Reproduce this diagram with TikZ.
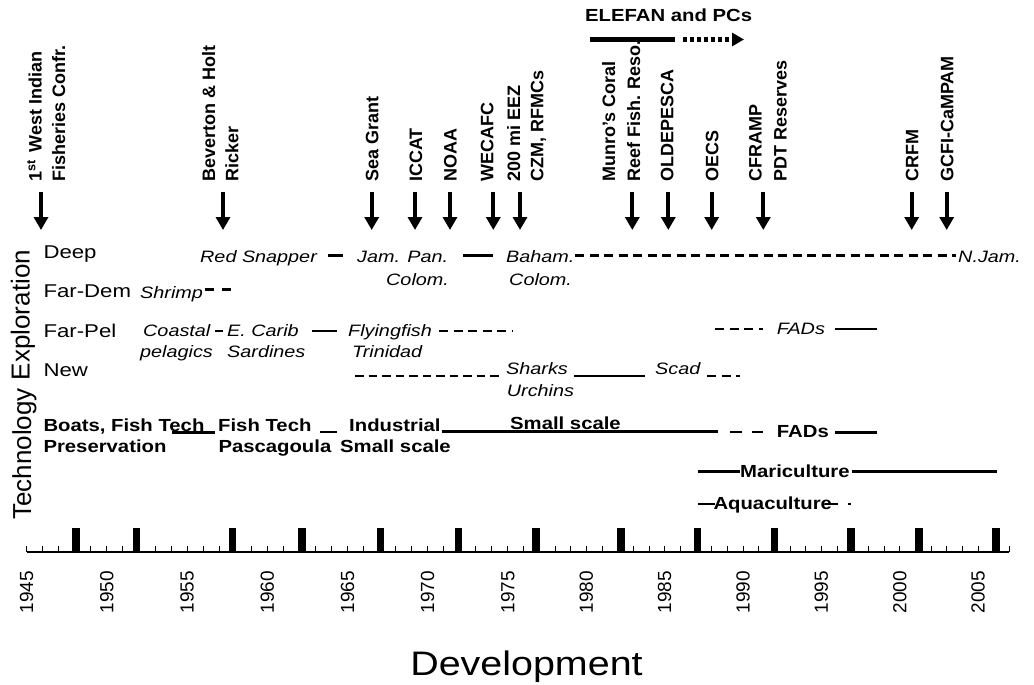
\documentclass[tikz,border=0pt]{standalone}
\usepackage{fontspec}
\setmainfont{Liberation Sans}
\newfontfamily\catf[FakeStretch=1.2]{Liberation Sans}
\newfontfamily\itf[FakeStretch=1.2]{Liberation Sans}
\newfontfamily\bff[FakeStretch=1.16]{Liberation Sans}
\newfontfamily\devf[FakeStretch=1.16]{Liberation Sans}
\usetikzlibrary{arrows.meta}
\tikzset{
  toplbl/.style={rotate=90, anchor=base west, inner sep=0pt, font=\bfseries\fontsize{18}{20}\selectfont},
  evarrow/.style={line width=4pt, -{Triangle[width=14pt,length=13pt]}},
  catlbl/.style={anchor=base west, inner sep=0pt, font=\catf\fontsize{18.5}{20}\selectfont},
  itlbl/.style={anchor=base west, inner sep=0pt, font=\itf\itshape\fontsize{16.5}{18}\selectfont},
  techlbl/.style={anchor=base west, inner sep=0pt, font=\bff\bfseries\fontsize{17.5}{20}\selectfont},
  solidln/.style={line width=2.5pt},
  dashln/.style={line width=2.5pt, dash pattern=on 9pt off 5.5pt},
  yearlbl/.style={rotate=90, anchor=east, inner sep=0pt, font=\fontsize{19}{22}\selectfont},
  sidelbl/.style={rotate=90, anchor=base, inner sep=0pt, font=\fontsize{26}{30}\selectfont},
}
\begin{document}
\begin{tikzpicture}[x=1pt,y=-1pt]
\useasboundingbox (0,0) rectangle (1034,685);

% ---------- top event labels ----------
\node[toplbl] (wia) at (41.7,182) {1\textsuperscript{st}\, West Indian};
\node[toplbl] (wib) at (65,182) {Fisheries Confr.};
\node[toplbl] (bha) at (215,182) {Beverton \& Holt};
\node[toplbl] (bhb) at (238.3,182) {Ricker};
\node[toplbl] (seag) at (378.3,182) {Sea Grant};
\node[toplbl] (iccat) at (422,182) {ICCAT};
\node[toplbl] (noaa) at (456.7,182) {NOAA};
\node[toplbl] (wecafc) at (493.3,182) {WECAFC};
\node[toplbl] (eeza) at (520,182) {200 mi EEZ};
\node[toplbl] (eezb) at (543.3,182) {CZM, RFMCs};
\node[toplbl] (mua) at (615,182) {Munro's Coral};
\node[toplbl] (mub) at (640,182) {Reef Fish. Reso.};
\node[toplbl] (olde) at (673.3,182) {OLDEPESCA};
\node[toplbl] (oecs) at (718.3,182) {OECS};
\node[toplbl] (cfa) at (761.7,182) {CFRAMP};
\node[toplbl] (cfb) at (786.7,182) {PDT Reserves};
\node[toplbl] (crfm) at (918.3,182) {CRFM};
\node[toplbl] (gcfi) at (953.3,182) {GCFI-CaMPAM};

\foreach \ax [count=\i] in {41,223,371.7,415,450,493.3,520,632.3,668.3,711.7,763.3,911.7,946.7} {
  \coordinate (as\i) at (\ax,192);
  \coordinate (ae\i) at (\ax,230);
  \draw[evarrow] (as\i) -- (ae\i);
}

% ---------- ELEFAN ----------
\node[techlbl] (elefan) at (585,22) {ELEFAN and PCs};
\coordinate (ela) at (590,39.5);
\coordinate (elb) at (675,39.5);
\coordinate (elc) at (683,39.5);
\coordinate (eld) at (744,39.5);
\draw[line width=4.3pt] (ela) -- (elb);
\draw[line width=4.3pt, dash pattern=on 4pt off 3pt, -{Triangle[width=13pt,length=12pt]}] (elc) -- (eld);

% ---------- side labels ----------
\node[sidelbl] (expl) at (29.5,315) {Exploration};
\node[sidelbl] (techn) at (31,454) {Technology};

% ---------- exploration rows ----------
\node[catlbl] (deep) at (43.3,258) {Deep};
\node[catlbl] (fardem) at (43.3,297) {Far-Dem};
\node[catlbl] (farpel) at (43.3,337) {Far-Pel};
\node[catlbl] (new) at (43.3,376) {New};

\node[itlbl] (reds) at (200,262.5) {Red Snapper};
\node[itlbl] (jam) at (357,262.5) {Jam. Pan.};
\node[itlbl] (colA) at (386,285.5) {Colom.};
\node[itlbl] (baham) at (506,262.5) {Baham.};
\node[itlbl] (colB) at (509,285.5) {Colom.};
\node[itlbl] (njam) at (958,262.5) {N.Jam.};
\node[itlbl] (shrimp) at (140,298.5) {Shrimp};
\node[itlbl] (coastal) at (143,336) {Coastal};
\node[itlbl] (pelag) at (140,357) {pelagics};
\node[itlbl] (ecarib) at (227,336) {E. Carib};
\node[itlbl] (sard) at (227,357) {Sardines};
\node[itlbl] (flying) at (348,336) {Flyingfish};
\node[itlbl] (trin) at (352,357) {Trinidad};
\node[itlbl] (fadsA) at (776.7,334) {FADs};
\node[itlbl] (sharks) at (506,374) {Sharks};
\node[itlbl] (urch) at (506.7,396) {Urchins};
\node[itlbl] (scad) at (655,374) {Scad};

% deep row
\draw[solidln] (328,255.5) -- (343,255.5);
\draw[solidln] (463,255.5) -- (493,255.5);
\draw[dashln] (575,255.5) -- (956,255.5);
% far-dem row
\draw[line width=2.5pt, dash pattern=on 9pt off 8pt] (205,289.3) -- (232,289.3);
% far-pel row
\draw[solidln] (215,331) -- (222.7,331);
\draw[solidln] (311.7,331) -- (336.7,331);
\draw[dashln] (439,331) -- (512,331);
\draw[dashln] (715,329) -- (763,329);
\draw[solidln] (835,329) -- (876.7,329);
% new row
\draw[line width=2.5pt, dash pattern=on 8.5pt off 5pt] (355,376) -- (500,376);
\draw[solidln] (574,376) -- (645,376);
\draw[dashln] (707,376) -- (740,376);

% ---------- technology rows ----------
\node[techlbl] (boats) at (43.3,431) {Boats, Fish Tech};
\node[techlbl] (pres) at (43.3,452) {Preservation};
\node[techlbl] (fisht) at (218,431) {Fish Tech};
\node[techlbl] (pasc) at (218.3,452) {Pascagoula};
\node[techlbl] (indus) at (349,431) {Industrial};
\node[techlbl] (smallA) at (340,452) {Small scale};
\node[techlbl] (smallB) at (510,429) {Small scale};
\node[techlbl] (fadsB) at (776.7,437) {FADs};
\node[techlbl] (maric) at (740,477.5) {Mariculture};
\node[techlbl] (aquac) at (713.3,509.5) {Aquaculture};

\draw[solidln] (172,432.3) -- (215,432.3);
\draw[solidln] (320,432) -- (336.7,432);
\draw[solidln] (441.7,431.7) -- (718,431.7);
\draw[line width=2.5pt, dash pattern=on 12pt off 10pt] (730,432) -- (763.3,432);
\draw[solidln] (835,432.3) -- (876.7,432.3);
\draw[solidln] (698.3,471.7) -- (740,471.7);
\draw[solidln] (851.7,471.7) -- (996.7,471.7);
\draw[solidln] (698.3,504) -- (715,504);
\draw[solidln] (825,504) -- (838.3,504);
\draw[solidln] (848,504) -- (851,504);

% ---------- axis ----------
\draw[line width=1.3pt] (26.7,552) -- (1009.4,552);
\foreach \yr in {1945,...,2007} {
  \pgfmathsetmacro\xx{(\yr<=1975)*(26.7+16.04*(\yr-1945)) + (\yr>1975)*(508+15.67*(\yr-1975))}
  \draw[line width=1pt] (\xx,552) -- (\xx,546);
}
\foreach \yr in {1945,1950,...,2005} {
  \pgfmathsetmacro\xx{(\yr<=1975)*(26.7+16.04*(\yr-1945)) + (\yr>1975)*(508+15.67*(\yr-1975))}
  \node[yearlbl] (yr\yr) at (\xx,571) {\yr};
}
\foreach \bx in {76,136.7,232.7,302,380.3,458.7,536,621,697.7,774.3,851,919,996} {
  \fill (\bx-3.75,528) rectangle (\bx+3.75,552);
}

\node[anchor=base, inner sep=0pt, font=\devf\fontsize{34}{38}\selectfont] (dev) at (526.5,675) {Development};
\end{tikzpicture}
\end{document}
